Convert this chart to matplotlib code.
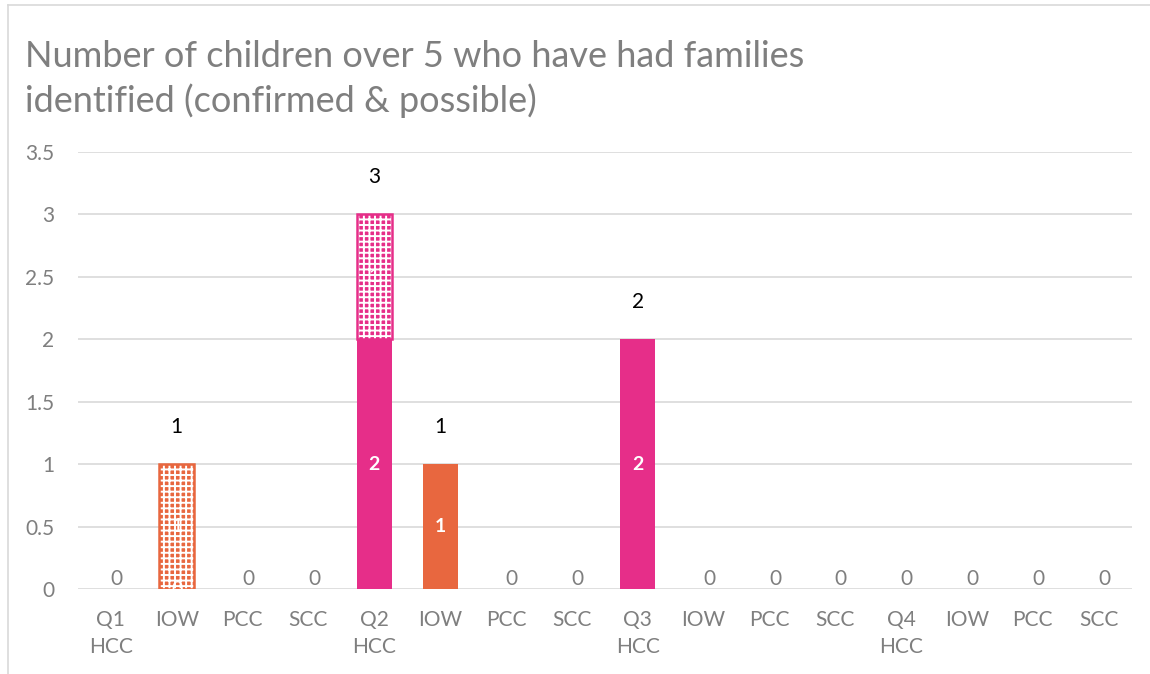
import matplotlib
matplotlib.use("Agg")
import matplotlib.pyplot as plt
from matplotlib.lines import Line2D

# data
categories = ["Q1\nHCC", "IOW", "PCC", "SCC",
              "Q2\nHCC", "IOW", "PCC", "SCC",
              "Q3\nHCC", "IOW", "PCC", "SCC",
              "Q4\nHCC", "IOW", "PCC", "SCC"]
areas = ["HCC", "IOW", "PCC", "SCC"] * 4
confirmed = [0, 0, 0, 0, 2, 1, 0, 0, 2, 0, 0, 0, 0, 0, 0, 0]
possible = [0, 1, 0, 0, 1, 0, 0, 0, 0, 0, 0, 0, 0, 0, 0, 0]

area_colors = {"HCC": "#E62E89", "IOW": "#E8673F", "PCC": "#4472C4", "SCC": "#70AD47"}

plt.rcParams['font.family'] = ['Lato', 'DejaVu Sans']
plt.rcParams['hatch.linewidth'] = 1.4

fig = plt.figure(figsize=(11.5, 6.74), dpi=100)
ax = fig.add_axes([0.0678, 0.126, 0.9162, 0.6485])

w = 0.53
for i in range(len(categories)):
    col = area_colors[areas[i]]
    c = confirmed[i]
    p = possible[i]
    if c > 0:
        ax.bar(i, c, width=w, color=col, linewidth=0, zorder=3)
    if p > 0:
        # checkered "possible" segment
        ax.bar(i, p, bottom=c, width=w, color=col, edgecolor="white",
               hatch="+++", linewidth=0, zorder=3)
        ax.bar(i, p, bottom=c, width=w, facecolor="none", edgecolor=col,
               linewidth=1.8, zorder=4)

for i in range(len(categories)):
    c = confirmed[i]
    p = possible[i]
    total = c + p
    if c > 0:
        ax.text(i, c / 2, str(c), ha="center", va="center", color="white",
                fontsize=14, fontweight="bold", zorder=5)
    elif p > 0:
        ax.text(i, 0, "0", ha="center", va="center", color="white",
                fontsize=14, zorder=5)
    if p > 0:
        ax.text(i, c + p / 2, str(p), ha="center", va="center", color="white",
                fontsize=14, zorder=5)
    if total > 0:
        ax.annotate(str(total), (i, total), xytext=(0, 27), textcoords="offset points",
                    ha="center", va="center", color="black", fontsize=15)
    else:
        ax.annotate("0", (i, 0), xytext=(4, 7), textcoords="offset points",
                    ha="center", va="center", color="#7f7f7f", fontsize=15, zorder=6)

ax.set_xlim(-0.5, len(categories) - 0.5)
ax.set_ylim(0, 3.5)
ax.set_yticks([0, 0.5, 1, 1.5, 2, 2.5, 3, 3.5])
ax.set_yticklabels(["0", "0.5", "1", "1.5", "2", "2.5", "3", "3.5"])
ax.set_xticks(range(len(categories)))
ax.set_xticklabels(categories, linespacing=1.45)
ax.tick_params(axis="both", length=0, colors="#7f7f7f", labelsize=15)
ax.tick_params(axis="y", pad=17)
ax.tick_params(axis="x", pad=15)
ax.yaxis.grid(True, color="#d9d9d9", linewidth=1.2, zorder=0)
ax.set_axisbelow(True)
for s in ax.spines.values():
    s.set_visible(False)

fig.text(0.0217, 0.94, "Number of children over 5 who have had families\nidentified (confirmed & possible)",
         ha="left", va="top", fontsize=26, color="#7f7f7f", linespacing=1.36)

# chart frame
fig.add_artist(Line2D([0.007, 0.007], [0, 0.993], color="#d9d9d9", linewidth=1.2))
fig.add_artist(Line2D([0.007, 1], [0.993, 0.993], color="#d9d9d9", linewidth=1.2))

fig.savefig("out.png", dpi=100)
